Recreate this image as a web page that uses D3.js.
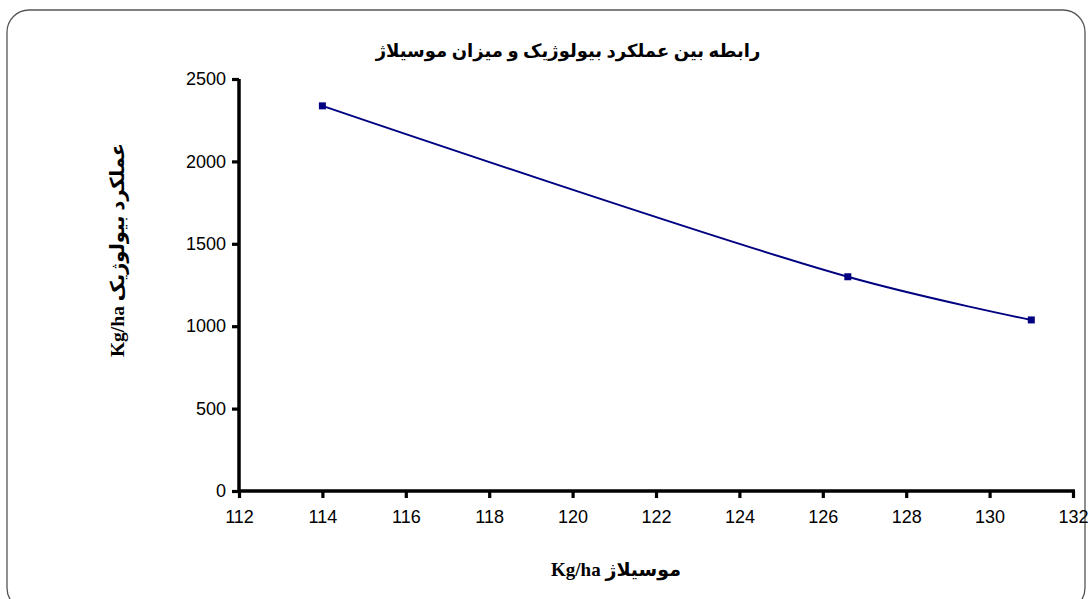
<!DOCTYPE html>
<html><head><meta charset="utf-8">
<script src="https://cdn.jsdelivr.net/npm/d3@7"></script>
<style>body{margin:0;background:#fff}</style>
</head><body>
<svg id="c" width="1091" height="599"></svg>
<script>
const xValues = [114, 126.6, 131];
const yValues = [2337, 1300, 1038];
const xTicks = [112,114,116,118,120,122,124,126,128,130,132];
const yTicks = [0,500,1000,1500,2000,2500];
const titleText = "رابطه بین عملکرد بیولوژیک و میزان موسیلاژ";
const xLabel = "موسیلاژ  Kg/ha";
const yLabel = "عملکرد بیولوژیک  Kg/ha";

const svg = d3.select("#c");
svg.append("rect").attr("x",7).attr("y",10).attr("width",1078).attr("height",600)
  .attr("rx",22).attr("fill","#fff").attr("stroke","#555").attr("stroke-width",1.3);

const L=239, R=1073, T=79, B=491;
const x = d3.scaleLinear().domain([112,132]).range([L,R]);
const y = d3.scaleLinear().domain([0,2500]).range([B,T]);

const xa = svg.append("g").attr("transform",`translate(0,${B})`)
  .call(d3.axisBottom(x).tickValues(xTicks).tickFormat(d3.format("d")).tickSize(7).tickPadding(12).tickSizeOuter(0));
const ya = svg.append("g").attr("transform",`translate(${L},0)`)
  .call(d3.axisLeft(y).tickValues(yTicks).tickFormat(d3.format("d")).tickSize(7).tickPadding(6).tickSizeOuter(0));
[xa,ya].forEach(a=>{
  a.select(".domain").remove();
  a.selectAll(".tick line").attr("stroke","#000").attr("stroke-width",3.2);
  a.selectAll(".tick text").attr("fill","#000").style("font-family","Liberation Sans, Arial, sans-serif").style("font-size","18px");
});
// thick axis lines
svg.append("line").attr("x1",x(112)).attr("x2",x(132)+2).attr("y1",y(0)).attr("y2",y(0))
  .attr("stroke","#000").attr("stroke-width",3.5);
svg.append("line").attr("x1",x(112)).attr("x2",x(112)).attr("y1",y(0)+2).attr("y2",y(2500))
  .attr("stroke","#000").attr("stroke-width",3.5);

const pts = xValues.map((v,i)=>[x(v), y(yValues[i])]);
svg.append("path").attr("d", d3.line().curve(d3.curveCatmullRom.alpha(0.5))(pts))
  .attr("fill","none").attr("stroke","#000080").attr("stroke-width",2);
svg.selectAll(".m").data(pts).enter().append("rect")
  .attr("x",d=>d[0]-3.5).attr("y",d=>d[1]-3.5).attr("width",7).attr("height",7).attr("fill","#000080");

const ff = "'Liberation Serif','DejaVu Sans',serif";
svg.append("text").attr("x",568).attr("y",57).attr("text-anchor","middle")
  .attr("direction","rtl")
  .style("font-family",ff).style("font-weight","bold").style("font-size","18px").text(titleText);
svg.append("text").attr("x",616).attr("y",576).attr("text-anchor","middle").attr("direction","rtl")
  .style("font-family",ff).style("font-weight","bold").style("font-size","19px").text(xLabel);
svg.append("text").attr("transform","translate(124,250) rotate(-90)").attr("text-anchor","middle").attr("direction","rtl")
  .style("font-family",ff).style("font-weight","bold").style("font-size","19.5px").text(yLabel);
</script>
</body></html>
